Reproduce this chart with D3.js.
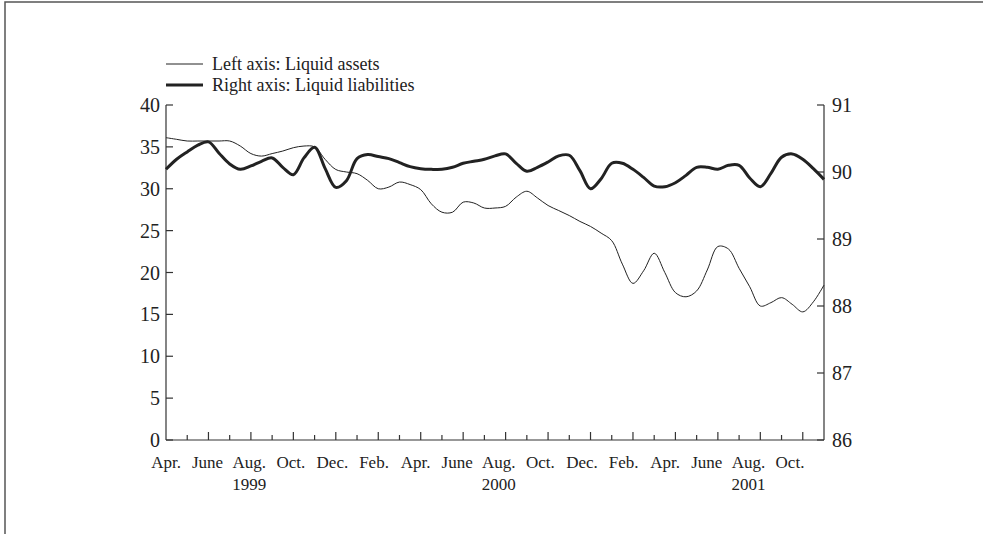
<!DOCTYPE html>
<html><head><meta charset="utf-8">
<script src="https://cdn.jsdelivr.net/npm/d3@7/dist/d3.min.js"></script>
<style>body{margin:0;background:#fff}svg{display:block}</style>
</head><body>
<svg id="c" width="983" height="534"></svg>
<script>
// month index (0 = Apr. 1999), semi-monthly readings
const months = d3.range(0, 31.01, 0.5);
const liquidAssets = [36.1,35.9,35.7,35.7,35.7,35.7,35.7,35.1,34.2,33.9,34.2,34.5,34.9,35.1,35.0,33.5,32.3,32.0,31.8,31.0,30.0,30.2,30.8,30.5,29.9,28.2,27.2,27.2,28.4,28.3,27.7,27.7,27.9,29.0,29.7,28.9,28.0,27.4,26.8,26.1,25.5,24.7,23.8,21.0,18.7,20.2,22.3,20.0,17.6,17.1,17.8,20.3,23.1,22.8,20.5,18.3,16.0,16.4,17.0,16.2,15.3,16.5,18.5];
const liquidLiabilities = [90.04,90.19,90.30,90.40,90.45,90.28,90.12,90.04,90.09,90.16,90.21,90.07,89.96,90.21,90.37,90.05,89.77,89.87,90.20,90.26,90.23,90.20,90.14,90.08,90.05,90.04,90.04,90.07,90.13,90.16,90.19,90.24,90.27,90.13,90.01,90.07,90.15,90.24,90.25,90.02,89.75,89.90,90.13,90.13,90.04,89.92,89.79,89.78,89.84,89.95,90.07,90.07,90.04,90.10,90.10,89.91,89.78,89.98,90.22,90.27,90.19,90.05,89.89];
const leftTicks = [0,5,10,15,20,25,30,35,40];
const rightTicks = [86,87,88,89,90,91];
const monthLabels = ["Apr.","June","Aug.","Oct.","Dec.","Feb.","Apr.","June","Aug.","Oct.","Dec.","Feb.","Apr.","June","Aug.","Oct."];
const yearLabels = [{label:"1999", idx:2},{label:"2000", idx:8},{label:"2001", idx:14}];
const legendLabels = ["Left axis: Liquid assets","Right axis: Liquid liabilities"];

const svg = d3.select("#c");
const L = 166, R = 824, T = 105, B = 440;
const font = "Liberation Serif, Times New Roman, serif";
const ink = "#222";

// frame
svg.append("path").attr("d", `M5,534 V2 H983`).attr("fill","none").attr("stroke","#555").attr("stroke-width",1.5);

const x = d3.scaleLinear().domain([0,31]).range([L,R]);
const labelX = d3.scaleLinear().domain([0,15]).range([L,790]);
const yL = d3.scaleLinear().domain([0,40]).range([B,T]);
const yR = d3.scaleLinear().domain([86,91]).range([B,T]);

// axes
const g = svg.append("g").attr("stroke", "#333").attr("stroke-width",1.2);
g.append("line").attr("x1",L).attr("x2",L).attr("y1",T).attr("y2",B);
g.append("line").attr("x1",R).attr("x2",R).attr("y1",T).attr("y2",B);
g.append("line").attr("x1",L).attr("x2",R).attr("y1",B).attr("y2",B);
g.selectAll(".lt").data(leftTicks).join("line").attr("x1",L).attr("x2",L+7).attr("y1",d=>yL(d)).attr("y2",d=>yL(d));
g.selectAll(".rt").data(rightTicks).join("line").attr("x1",R).attr("x2",R-7).attr("y1",d=>yR(d)).attr("y2",d=>yR(d));
g.selectAll(".xt").data(d3.range(1,31)).join("line")
  .attr("x1",d=>x(d)).attr("x2",d=>x(d)).attr("y1",B).attr("y2",d=> d%2===0 ? B-8 : B-5);

svg.selectAll(".ll").data(leftTicks).join("text").attr("x",L-6).attr("y",d=>yL(d)).attr("dy","0.35em")
  .attr("text-anchor","end").attr("font-family",font).attr("font-size",20).attr("fill",ink).text(d=>d);
svg.selectAll(".rl").data(rightTicks).join("text").attr("x",R+8).attr("y",d=>yR(d)).attr("dy","0.35em")
  .attr("text-anchor","start").attr("font-family",font).attr("font-size",20).attr("fill",ink).text(d=>d);
svg.selectAll(".ml").data(monthLabels).join("text").attr("x",(d,i)=>labelX(i)).attr("y",468)
  .attr("text-anchor","middle").attr("font-family",font).attr("font-size",17).attr("fill",ink).text(d=>d);
svg.selectAll(".yl").data(yearLabels).join("text").attr("x",d=>labelX(d.idx)).attr("y",490)
  .attr("text-anchor","middle").attr("font-family",font).attr("font-size",17).attr("fill",ink).text(d=>d.label);

// lines
const lineA = d3.line().x((d,i)=>x(months[i])).y(d=>yL(d)).curve(d3.curveCatmullRom.alpha(0.5));
const lineB = d3.line().x((d,i)=>x(months[i])).y(d=>yR(d)).curve(d3.curveCatmullRom.alpha(0.5));
svg.append("path").attr("d",lineA(liquidAssets)).attr("fill","none").attr("stroke",ink).attr("stroke-width",1);
svg.append("path").attr("d",lineB(liquidLiabilities)).attr("fill","none").attr("stroke",ink).attr("stroke-width",3).attr("stroke-linejoin","round");

// legend
const lg = svg.selectAll(".lg").data(legendLabels).join("g").attr("transform",(d,i)=>`translate(166,${64+i*21})`);
lg.append("line").attr("x1",0).attr("x2",37).attr("stroke",ink).attr("stroke-width",(d,i)=>i===0?1:3);
lg.append("text").attr("x",46).attr("y",6).attr("font-family",font).attr("font-size",18).attr("fill",ink).text(d=>d);
</script>
</body></html>
